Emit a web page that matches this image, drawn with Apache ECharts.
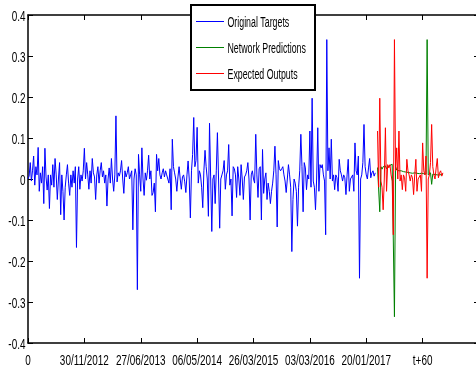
<!DOCTYPE html>
<html>
<head>
<meta charset="utf-8">
<script src="https://cdn.jsdelivr.net/npm/echarts@6/dist/echarts.min.js"></script>
<style>html,body{margin:0;padding:0;background:#fff;}#c{width:476px;height:372px;}</style>
</head>
<body>
<div id="c"></div>
<script>
// ---- data ----
const tickLabels = ['0','30/11/2012','27/06/2013','06/05/2014','26/03/2015','03/03/2016','20/01/2017','t+60'];
const xTickStep = 50;
const yTicks = [0.4, 0.3, 0.2, 0.1, 0, -0.1, -0.2, -0.3, -0.4];
const seriesNames = ['Original Targets','Network Predictions','Expected Outputs'];
const seriesColors = ['#0000ff', '#008000', '#ff0000'];
const targetsStart = 0;
const targets = [
0.0,0.007,0.04,-0.005,0.02,0.056,-0.015,0.03,0.01,0.077,
-0.03,0.015,-0.01,0.03,-0.06,0.075,0.005,-0.027,0.01,-0.072,
0.01,-0.015,0.035,-0.02,0.05,0.01,-0.05,0.0,0.04,-0.087,
0.01,-0.03,-0.1,-0.02,0.01,0.035,-0.01,-0.04,0.01,-0.02,
0.02,-0.01,0.03,-0.167,0.0,0.03,-0.025,0.01,-0.005,0.02,
0.075,0.0,0.04,0.01,-0.025,0.02,-0.01,0.05,0.015,0.005,
-0.05,0.01,0.03,-0.01,0.02,0.04,0.005,0.02,-0.01,0.01,
-0.066,0.0,0.027,-0.01,0.05,0.0,-0.03,0.01,0.154,-0.007,
0.015,0.007,0.02,0.045,0.0,-0.035,0.02,0.005,0.015,0.03,
0.0,0.01,0.02,-0.124,0.0,0.025,0.01,-0.27,0.06,0.01,
-0.03,0.076,0.0,-0.04,0.015,-0.003,0.02,0.058,0.0,0.02,
-0.04,-0.033,-0.01,-0.08,0.06,0.02,0.05,0.01,0.0,0.015,
0.025,0.005,0.02,0.01,0.0,-0.01,0.025,-0.075,0.097,0.03,
0.015,0.0,-0.03,0.005,0.03,0.0,-0.025,0.005,0.01,-0.007,
-0.033,0.01,0.044,0.0,-0.095,0.02,0.06,0.15,0.03,0.045,
0.126,-0.01,0.02,0.01,-0.02,-0.07,0.02,0.07,0.03,0.0,
-0.091,0.136,0.005,-0.128,0.0,0.01,-0.06,0.02,0.113,0.0,
-0.12,0.0,0.01,0.02,0.045,-0.025,0.01,0.02,0.084,-0.015,
0.0,-0.09,0.03,0.025,0.01,-0.045,0.03,0.0,-0.04,0.035,
0.0,-0.05,0.005,0.01,0.02,0.04,0.0,-0.1,0.01,0.02,
0.0,-0.01,0.109,0.01,-0.045,0.025,0.03,-0.1,0.072,-0.035,
0.0,0.015,-0.05,-0.01,-0.03,-0.06,-0.03,-0.01,0.02,0.08,
0.01,-0.117,0.045,0.025,0.02,0.025,0.03,0.01,-0.005,-0.033,
0.0,0.035,0.01,-0.02,-0.177,-0.05,0.0,-0.01,-0.03,-0.115,
-0.02,0.02,0.109,0.03,-0.08,0.04,0.027,-0.026,0.01,0.0,
0.117,-0.02,0.197,-0.005,-0.02,-0.075,0.0,0.125,-0.03,0.035,
0.027,0.035,0.01,-0.005,-0.136,0.34,0.02,0.076,0.0,0.097,
-0.005,0.01,-0.026,0.01,0.003,-0.03,0.048,0.02,0.01,-0.005,
0.01,0.003,-0.038,0.01,0.048,-0.03,0.0,0.003,0.01,-0.03,
0.088,0.02,0.01,0.056,-0.242,0.0,0.01,0.04,0.133,0.03,
0.01,0.0,0.027,0.05,0.003,0.015,0.02,0.007,0.015
];
const forecastStart = 310;
const predictions = [
0.028,0.025,-0.08,0.03,0.024,0.03,0.026,0.032,0.025,0.03,
0.028,0.033,0.03,0.036,0.04,-0.336,0.03,0.022,0.025,0.02,
0.024,0.02,0.022,0.018,0.02,0.017,0.019,0.016,0.018,0.015,
0.017,0.014,0.016,0.015,0.017,0.014,0.016,0.013,0.015,0.014,
0.016,0.013,0.015,0.012,0.34,0.01,0.012,0.015,-0.013,0.012,
0.015,0.011,0.013,0.01,0.012,0.01,0.013,0.011,0.012
];
const expected = [
0.117,-0.02,0.197,-0.005,-0.02,-0.075,0.0,0.125,-0.03,0.035,
0.027,0.035,0.01,-0.005,-0.136,0.34,0.02,0.076,0.0,0.117,
-0.005,0.01,-0.026,0.01,0.003,-0.03,0.048,0.02,0.01,-0.005,
0.01,0.003,-0.038,0.01,0.048,-0.03,0.0,0.003,0.01,-0.03,
0.088,0.02,0.01,0.056,-0.242,0.0,0.01,0.04,0.133,0.03,
0.01,0.0,0.027,0.05,0.003,0.015,0.02,0.007,0.015
];

const FONT = "'Liberation Sans', Arial, sans-serif";
const toPairs = (arr, start) => arr.map((v, i) => [start + i, v]);

const chart = echarts.init(document.getElementById('c'), null, {renderer: 'canvas'});
const axLine = {show: true, onZero: false, lineStyle: {color: '#000', width: 1.5}};
const tick = {show: true, inside: true, length: 5, lineStyle: {color: '#000', width: 1}};
const legendTop = 21, legendGap = 25, legendItemH = 1;
chart.setOption({
  animation: false,
  backgroundColor: '#fff',
  grid: {left: 28, top: 15, width: 451, bottom: 29, outerBoundsMode: 'none', containLabel: false},
  xAxis: [
    {type: 'value', min: 0, max: 400, interval: xTickStep, position: 'bottom',
     axisLine: axLine, splitLine: {show: false}, axisTick: tick, axisLabel: {show: false}},
    {type: 'value', min: 0, max: 400, interval: xTickStep, position: 'top',
     axisLine: axLine, splitLine: {show: false}, axisTick: tick, axisLabel: {show: false}}
  ],
  yAxis: [
    {type: 'value', min: -0.4, max: 0.4, interval: 0.1, position: 'left',
     axisLine: axLine, splitLine: {show: false}, axisTick: tick, axisLabel: {show: false}},
    {type: 'value', min: -0.4, max: 0.4, interval: 0.1, position: 'right',
     axisLine: axLine, splitLine: {show: false}, axisTick: tick, axisLabel: {show: false}}
  ],
  legend: {
    orient: 'vertical', left: 196, top: legendTop, padding: 0, itemGap: legendGap,
    itemWidth: 28, itemHeight: legendItemH, z: 200, icon: 'rect',
    formatter: () => '',
    data: seriesNames
  },
  series: seriesNames.map((name, k) => ({
    name, type: 'line', symbol: 'none',
    data: toPairs([targets, predictions, expected][k], k === 0 ? targetsStart : forecastStart),
    lineStyle: {color: seriesColors[k], width: 1}, itemStyle: {color: seriesColors[k]}
  }))
});

// condensed (MATLAB-like) text, positioned through the chart's own scales
const graphics = [{
  type: 'rect', id: 'legendBox', z: 100,
  shape: {x: 191, y: 5, width: 124, height: 85},
  style: {fill: '#fff', stroke: '#000', lineWidth: 2}
}];
tickLabels.forEach((t, i) => {
  const px = chart.convertToPixel({xAxisIndex: 0}, i * xTickStep);
  graphics.push({type: 'text', z: 150, x: px, y: 361, scaleX: 0.71,
    style: {text: t, font: '14px ' + FONT, fill: '#000', align: 'center', verticalAlign: 'middle'}});
});
yTicks.forEach(v => {
  const py = chart.convertToPixel({yAxisIndex: 0}, v);
  graphics.push({type: 'text', z: 150, x: 25.5, y: py + 2, scaleX: 0.71,
    style: {text: String(v), font: '14px ' + FONT, fill: '#000', align: 'right', verticalAlign: 'middle'}});
});
seriesNames.forEach((name, k) => {
  const cy = legendTop + legendItemH / 2 + k * (legendItemH + legendGap);
  graphics.push({type: 'text', z: 300, x: 227.5, y: cy + 2, scaleX: 0.63,
    style: {text: name, font: '14px ' + FONT, fill: '#000', align: 'left', verticalAlign: 'middle'}});
});
chart.setOption({graphic: graphics});
</script>
</body>
</html>
